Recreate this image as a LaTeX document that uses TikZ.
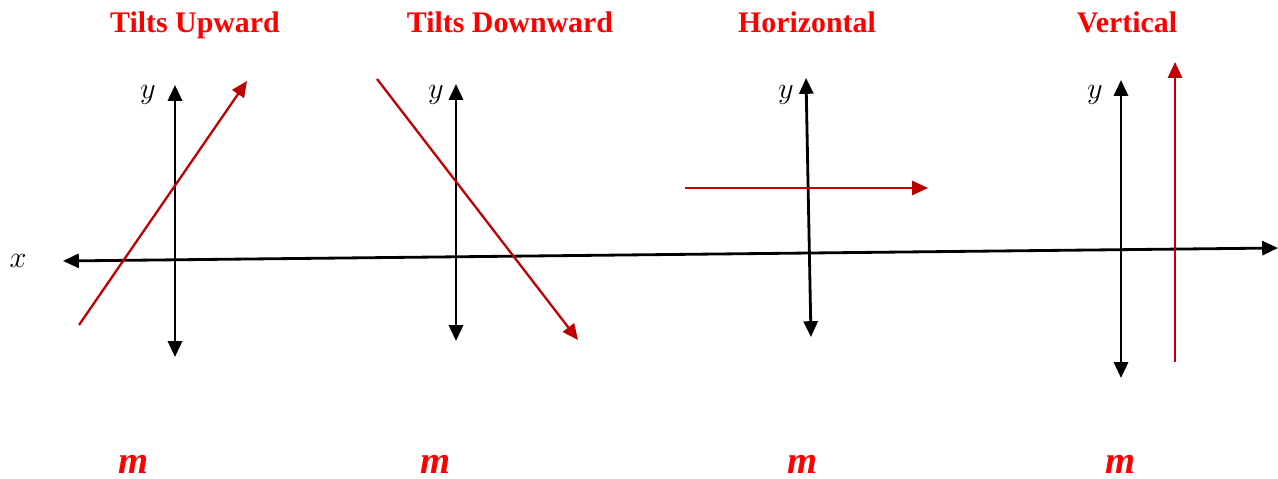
\documentclass[tikz,border=0pt]{standalone}
\usepackage{fontspec}
\setmainfont{Liberation Serif}
\usepackage{xcolor}
\usetikzlibrary{arrows.meta}
\definecolor{lnred}{RGB}{192,0,0}

\begin{document}
\begin{tikzpicture}[x=0.02cm,y=-0.02cm,>={Triangle[length=9pt,width=8pt]},
  axis/.style={line width=1.6pt,<->},
  redline/.style={lnred,line width=1.3pt},
  ttl/.style={red,anchor=base,font=\fontsize{17}{20}\selectfont\bfseries},
  slope/.style={red,anchor=base,font=\fontsize{22}{26}\selectfont\bfseries\itshape},
  lbl/.style={font=\fontsize{16}{19}\selectfont}]
\useasboundingbox (0,0) rectangle (1278,479);
% x axis
\coordinate (xl) at (63,261);
\coordinate (xr) at (1278,248);
\draw[axis] (xl)--(xr);
\node[lbl] (xlab) at (18,261) {$x$};
% titles
\node[ttl] (up)   at (195,33)  {Tilts Upward};
\node[ttl] (down) at (510,33)  {Tilts Downward};
\node[ttl] (hor)  at (807,33)  {Horizontal};
\node[ttl] (ver)  at (1127,33) {Vertical};
% y axes
\coordinate (ya1) at (175,85);  \coordinate (yb1) at (175,357);
\coordinate (ya2) at (456,84);  \coordinate (yb2) at (456,341);
\coordinate (ya3) at (806,78);  \coordinate (yb3) at (811,337);
\coordinate (ya4) at (1121,80); \coordinate (yb4) at (1121,378);
\draw[axis] (yb1)--(ya1);
\draw[axis] (yb2)--(ya2);
\draw[axis] (yb3)--(ya3);
\draw[axis] (yb4)--(ya4);
\node[lbl] (y1) at (148,95)  {$y$};
\node[lbl] (y2) at (436,95)  {$y$};
\node[lbl] (y3) at (786,95)  {$y$};
\node[lbl] (y4) at (1095,95) {$y$};
% red lines
\coordinate (ra1) at (79,325);  \coordinate (rb1) at (247,81);
\coordinate (ra2) at (377,79);  \coordinate (rb2) at (578,340);
\coordinate (ra3) at (685,188); \coordinate (rb3) at (928,188);
\coordinate (ra4) at (1175,362);\coordinate (rb4) at (1175,62);
\draw[redline,->] (ra1)--(rb1);
\draw[redline,->] (ra2)--(rb2);
\draw[redline,->] (ra3)--(rb3);
\draw[redline,->] (ra4)--(rb4);
% slopes
\node[slope] (m1) at (134,473)  {m};
\node[slope] (m2) at (436,473)  {m};
\node[slope] (m3) at (803,473)  {m};
\node[slope] (m4) at (1121,473) {m};
\end{tikzpicture}
\end{document}
